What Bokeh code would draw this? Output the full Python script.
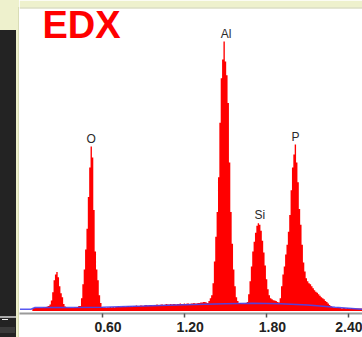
import numpy as np
from bokeh.plotting import figure
from bokeh.layouts import row
from bokeh.models import Range1d, FixedTicker, BoxAnnotation, Label, ColumnDataSource, Div
from bokeh.core.properties import value
from bokeh.embed import file_html
from bokeh.resources import INLINE

# ---------------- data ----------------
channel_start_kev = 0.09
channel_width_kev = 0.01
spectrum_counts = (
    [25]
    + [30, 30, 30, 30, 30, 30, 30, 35, 35, 40]            # 0.10-0.19
    + [45, 50, 65, 105, 190, 310, 370, 395, 340, 250]     # 0.20-0.29
    + [180, 140, 70, 45, 35, 30, 30, 30, 30, 30]          # 0.30-0.39
    + [35, 35, 40, 50, 50, 130, 270, 420, 620, 830]       # 0.40-0.49
    + [1150, 1450, 1660, 1550, 1020, 600, 420, 310, 160, 80]  # 0.50-0.59
    + [40, 35, 35, 30, 35, 35, 40, 35, 40, 35]            # 0.60-0.69
    + [40, 40, 45, 40, 40, 45, 45, 40, 45, 50]            # 0.70-0.79
    + [45, 50, 45, 50, 50, 55, 50, 50, 55, 55]            # 0.80-0.89
    + [50, 55, 60, 55, 55, 60, 60, 55, 60, 60]            # 0.90-0.99
    + [65, 60, 60, 65, 65, 60, 65, 70, 65, 65]            # 1.00-1.09
    + [70, 65, 70, 70, 65, 70, 70, 75, 70, 70]            # 1.10-1.19
    + [75, 70, 75, 75, 70, 75, 75, 80, 75, 75]            # 1.20-1.29
    + [80, 80, 85, 85, 90, 90, 85, 80, 100, 130]          # 1.30-1.39
    + [160, 280, 500, 750, 1000, 1350, 1900, 2350, 2540, 2720]  # 1.40-1.49
    + [2520, 2380, 2100, 1500, 1000, 680, 420, 250, 140, 100]   # 1.50-1.59
    + [80, 80, 75, 75, 75, 80, 90, 170, 300, 450]         # 1.60-1.69
    + [600, 700, 790, 860, 885, 870, 810, 710, 590, 460]  # 1.70-1.79
    + [320, 220, 160, 130, 120, 110, 105, 100, 90, 85]    # 1.80-1.89
    + [130, 250, 370, 450, 570, 670, 800, 970, 1220, 1450]  # 1.90-1.99
    + [1580, 1680, 1500, 1300, 1030, 870, 670, 490, 400, 330]  # 2.00-2.09
    + [300, 280, 270, 250, 230, 210, 195, 185, 170, 155]  # 2.10-2.19
    + [140, 130, 120, 100, 90, 75, 60, 50, 40, 35]        # 2.20-2.29
    + [30, 30, 35, 30, 30, 25, 30, 30, 25, 30]            # 2.30-2.39
    + [25, 25, 30, 25, 25, 25, 25, 25, 25, 25]            # 2.40-2.49
    + [25]                                                # 2.50
)
energy_kev = [round(channel_start_kev + i * channel_width_kev, 2) for i in range(len(spectrum_counts))]

background_energy = [0.00, 0.08, 0.11, 0.30, 0.60, 0.90, 1.20, 1.50, 1.70, 1.90, 2.10, 2.30, 2.50]
background_counts = [18, 18, 35, 35, 38, 50, 63, 73, 78, 73, 60, 38, 18]

element_names = ["O", "Al", "Si", "P"]
element_energy = [0.52, 1.505, 1.75, 2.01]

tick_values = [0.60, 1.20, 1.80, 2.40]
tick_labels = ["0.60", "1.20", "1.80", "2.40"]

BEIGE = "#eef1cd"
W, H = 362, 337
LEFT = 19

# ---------------- left slide strip (beige with dark panel) ----------------
side_html = (
    '<div style="position:relative;width:19px;height:337px;overflow:hidden;'
    'background:#eef1cd;margin:0;padding:0">'
    '<div style="position:absolute;left:18px;top:7px;width:1px;height:330px;background:#d9ddb6"></div>'
    '<div style="position:absolute;left:0;top:30px;width:16px;height:307px;background:#232323"></div>'
    '<div style="position:absolute;left:0;top:316px;width:16px;height:2px;background:#a8a8a8"></div>'
    '<div style="position:absolute;left:2px;top:319px;width:6px;height:1px;background:#eeeeee"></div>'
    '<div style="position:absolute;left:0;top:327px;width:15px;height:6px;background:#3a3a3a"></div>'
    '</div>'
)
side = Div(text=side_html, width=LEFT, height=H, margin=0)

# ---------------- spectrum chart ----------------
p = figure(width=W - LEFT, height=H, output_backend="svg", toolbar_location=None,
           x_range=Range1d(-0.0036, 2.4999), y_range=Range1d(-25, 3135),
           y_axis_location=None, min_border_left=0, min_border_right=0,
           min_border_top=0, min_border_bottom=21)
p.background_fill_color = "white"
p.border_fill_color = "white"
p.outline_line_color = None
p.grid.visible = False

src = ColumnDataSource(dict(e=energy_kev, c=spectrum_counts, z=[0] * len(spectrum_counts)))
p.varea_step(x="e", y1="z", y2="c", step_mode="center", source=src, fill_color="#ff0000")
p.line(background_energy, background_counts, line_color="#4646f0", line_width=1.5, line_alpha=0.9)

# element labels placed just above each peak maximum
lbl_y = []
for en in element_energy:
    idx = [i for i, e in enumerate(energy_kev) if abs(e - en) <= 0.025]
    lbl_y.append(max(spectrum_counts[i] for i in idx))
p.text(x=element_energy, y=lbl_y, text=element_names, text_align="center",
       text_baseline="bottom", y_offset=-1, text_font=value("Liberation Sans"),
       text_font_size="12px", text_color="#2a2a2a")

ax = p.xaxis[0]
ax.ticker = FixedTicker(ticks=tick_values, minor_ticks=[])
ax.major_label_overrides = {t: "\u00a0\u00a0\u00a0" + s for t, s in zip(tick_values, tick_labels)}
ax.axis_line_color = "#9a9a9a"
ax.axis_line_width = 2
ax.major_tick_line_color = "#555555"
ax.major_tick_line_width = 1.5
ax.major_tick_in = 0
ax.major_tick_out = 4
ax.minor_tick_line_color = None
ax.major_label_standoff = 1
ax.major_label_text_font = "Liberation Sans"
ax.major_label_text_font_style = "bold"
ax.major_label_text_font_size = "14px"
ax.major_label_text_color = "#222222"


def cbox(fig, l, r, t, b, color):
    # canvas units: x from the left, y from the top of that figure's canvas
    fig.add_layout(BoxAnnotation(left=l, right=r, top=t, bottom=b,
                                 left_units="canvas", right_units="canvas",
                                 top_units="canvas", bottom_units="canvas",
                                 fill_color=color, fill_alpha=1, line_alpha=0,
                                 level="overlay"))


# slide header strip above the white chart area
cbox(p, 0, W - LEFT, 0, 7, BEIGE)
cbox(p, 0, W - LEFT, 7, 8, "#c9cea8")

p.add_layout(Label(x=23, y=3, x_units="canvas", y_units="canvas", text="EDX",
                   text_font="Liberation Sans", text_font_style="bold",
                   text_font_size="38px", text_color="#ff0000",
                   text_align="left", text_baseline="top"))

layout = row(side, p, spacing=0)
open("out.html", "w").write(file_html(layout, INLINE))
